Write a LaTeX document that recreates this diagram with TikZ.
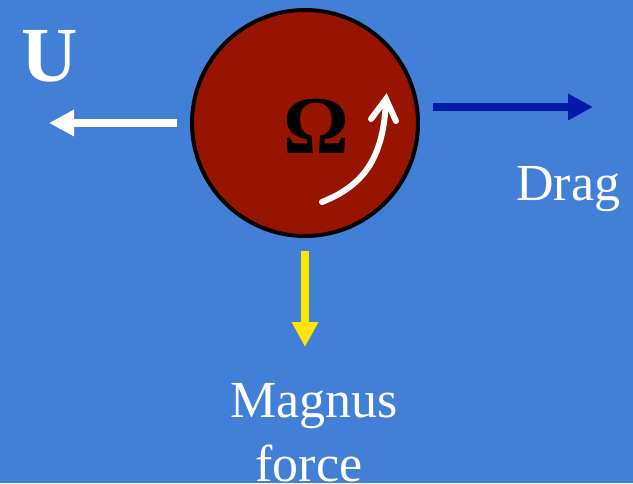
\documentclass[tikz,border=0pt]{standalone}
\usepackage{fontspec}
\setmainfont{Liberation Serif}
\usetikzlibrary{arrows.meta}
\definecolor{bgblue}{RGB}{66,127,214}
\definecolor{ballred}{RGB}{150,20,0}
\definecolor{dragblue}{RGB}{4,26,168}
\definecolor{magyellow}{RGB}{255,230,0}
\tikzset{
  force/.style={line width=8pt, -{Triangle[length=25pt,width=25pt]}},
  lbl/.style={text=white, inner sep=0pt},
}
\begin{document}
\begin{tikzpicture}[x=1pt,y=-1pt]
  \fill[bgblue] (0,0) rectangle (633,483);
  \useasboundingbox (0,0) rectangle (633,483);
  % ball
  \node[circle, draw=black, line width=4pt, fill=ballred, minimum size=226pt, inner sep=0pt] (ball) at (305,123) {};
  \node[inner sep=0pt, font=\fontsize{82}{82}\selectfont\bfseries] (omega) at (316.5,126.5) {Ω};
  % spin arrow
  \coordinate (s0) at (322,202);
  \coordinate (s1) at (386,99);
  \draw[white, line width=6pt, line cap=round] (s0) .. controls (362,186) and (384,160) .. (s1);
  \draw[white, line width=6pt, line cap=round, line join=miter] (371,119) -- (s1) -- (396,121);
  % U arrow
  \coordinate (u0) at (177,123);
  \coordinate (u1) at (49,123);
  \draw[white, force] (u0) -- (u1);
  \node[lbl, anchor=base west, font=\fontsize{78}{78}\selectfont\bfseries] (U) at (21,81) {U};
  % Drag arrow
  \coordinate (d0) at (433,107);
  \coordinate (d1) at (593,107);
  \draw[dragblue, force] (d0) -- (d1);
  \node[lbl, anchor=base west, font=\fontsize{52}{52}\selectfont] (drag) at (516,200) {Drag};
  % Magnus arrow
  \coordinate (m0) at (305,251);
  \coordinate (m1) at (305,347);
  \draw[magyellow, force] (m0) -- (m1);
  \node[lbl, anchor=base, font=\fontsize{52}{52}\selectfont] (magnus) at (314,417) {Magnus};
  \node[lbl, anchor=base, font=\fontsize{52}{52}\selectfont] (forcelbl) at (309,481) {force};
\end{tikzpicture}
\end{document}
